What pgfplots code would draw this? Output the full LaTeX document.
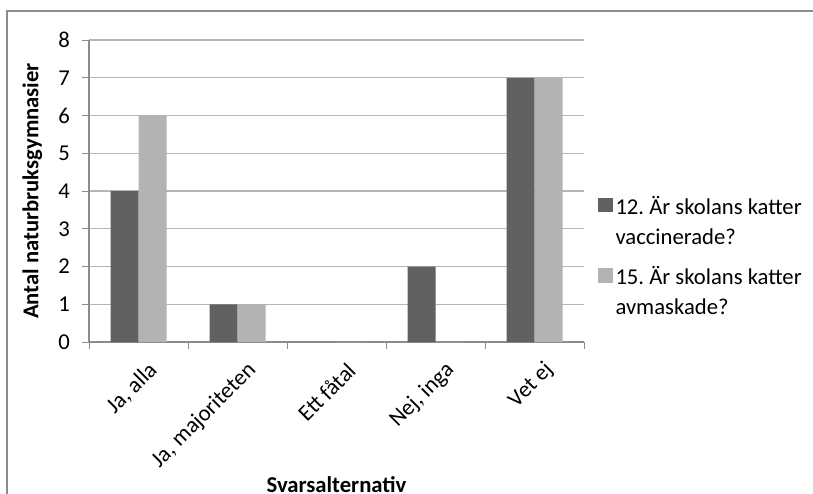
\documentclass[border=0pt]{standalone}
\usepackage{pgfplots}
\pgfplotsset{compat=1.18}
\usepackage{fontspec}
\setmainfont{Carlito}
\frenchspacing
\definecolor{darkbar}{HTML}{616161}
\definecolor{lightbar}{HTML}{B3B3B3}
\definecolor{gridc}{HTML}{B5B5B5}
\definecolor{framec}{HTML}{8C8C8C}
\newcommand{\lfont}{\fontsize{17}{20.25}\selectfont}
\begin{document}
\begin{tikzpicture}
\path[use as bounding box] (0pt,0pt) rectangle (609.75pt,369.75pt);
\draw[framec, line width=1.5pt] (5.25pt,-5pt) -- (5.25pt,361.5pt) -- (615pt,361.5pt);
\begin{axis}[
  at={(66.75pt,113.25pt)}, anchor=south west,
  scale only axis, width=371.25pt, height=226.5pt,
  ymin=0, ymax=8, ytick={0,1,...,8},
  xmin=-0.5, xmax=4.5,
  xtick={0,1,2,3,4},
  xticklabels={{Ja, alla},{Ja, majoriteten},{Ett fåtal},{Nej, inga},{Vet ej}},
  minor xtick={-0.5,0.5,1.5,2.5,3.5,4.5},
  xtick style={draw=none},
  minor x tick style={draw=framec, line width=0.6pt},
  minor tick length=5.25pt,
  ytick style={draw=framec, line width=0.6pt},
  major tick length=5.25pt,
  tick align=outside,
  ymajorgrids, grid style={gridc, line width=0.9pt},
  axis x line*=bottom, axis y line*=left,
  axis line style={framec, line width=0.8pt, -},
  every tick label/.append style={font=\lfont, text=black},
  /pgf/number format/assume math mode=true,
  yticklabel style={xshift=-5.5pt},
  xticklabel style={rotate=45, anchor=east, xshift=2pt, yshift=-17.5pt},
  ylabel={\bfseries Antal naturbruksgymnasier},
  ylabel style={font=\lfont, at={(-31.5pt,0.5)}, anchor=south},
  xlabel={\bfseries Svarsalternativ},
  xlabel style={font=\lfont, at={(0.5,0)}, anchor=center, yshift=-107pt},
  ybar, bar width=21pt,
  enlarge x limits=false,
  legend style={draw=none, fill=none, at={(1.02,0.285)}, anchor=west,
    font=\lfont, row sep=10.5pt,
    nodes={inner sep=2pt}},
  legend cell align=left,
  legend image code/.code={\fill[#1] (0pt,6.25pt) rectangle (11pt,17.25pt);},
]
\addplot+[ybar, fill=darkbar, draw=none, bar shift=-10.5pt] coordinates {(0,4) (1,1) (2,0) (3,2) (4,7)};
\addplot+[ybar, fill=lightbar, draw=none, bar shift=10.5pt] coordinates {(0,6) (1,1) (2,0) (3,0) (4,7)};
\legend{{\begin{tabular}[b]{@{}l@{}}12. Är skolans katter\\[2.25pt]vaccinerade?\end{tabular}},{\begin{tabular}[b]{@{}l@{}}15. Är skolans katter\\[2.25pt]avmaskade?\end{tabular}}}
\end{axis}
\end{tikzpicture}
\end{document}
